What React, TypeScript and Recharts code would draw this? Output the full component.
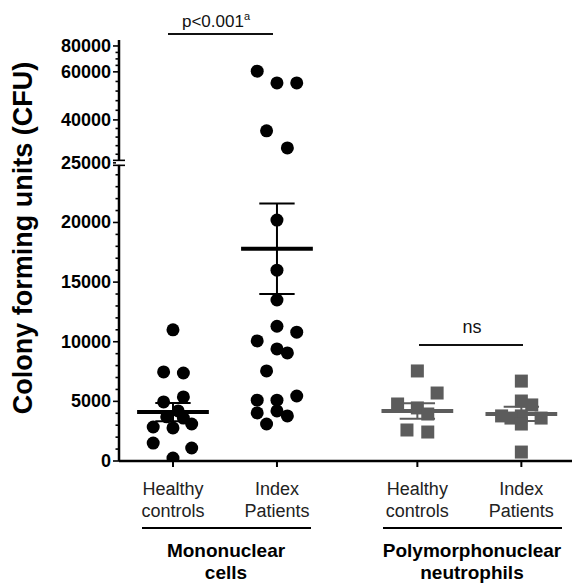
import { ScatterChart, Scatter, XAxis, YAxis, ReferenceLine } from 'recharts'

const FONT = '"Liberation Sans", Arial, sans-serif'
const GRAY = '#5c5c5c'

// group positions on the x axis
const groupX = [1, 2, 3.35, 4.35]
const groupLabels = [['Healthy', 'controls'], ['Index', 'Patients'], ['Healthy', 'controls'], ['Index', 'Patients']]

// CFU values, with jitter offsets
const monoHealthy = [11000, 7470, 7380, 5370, 4950, 4200, 3700, 3600, 2850, 2770, 3100, 1500, 1090, 250]
const monoHealthyJitter = [0, -0.09, 0.1, 0.1, -0.09, 0.05, -0.06, 0.1, -0.19, 0, 0.18, -0.19, 0.18, 0]
const monoIndex = [60500, 55400, 55400, 36200, 30200, 20200, 16000, 13500, 11300, 10800, 10070, 9400, 9060, 7550, 5450, 5100, 5100, 4030, 4200, 3780, 3100]
const monoIndexJitter = [-0.19, 0, 0.19, -0.1, 0.1, 0, 0, 0, 0, 0.19, -0.19, 0, 0.1, -0.1, 0.19, -0.19, 0, -0.19, 0, 0.1, -0.1]
const pmnHealthy = [7550, 5700, 4780, 4450, 3940, 2600, 2430]
const pmnHealthyJitter = [0, 0.19, -0.19, 0, 0.1, -0.1, 0.1]
const pmnIndex = [6700, 5030, 4700, 3780, 3780, 3600, 3600, 3100, 750]
const pmnIndexJitter = [0, 0, 0.1, -0.19, 0, 0.19, -0.1, 0, 0]

// mean and SEM per group
const means = [4100, 17800, 4200, 3950]
const sems = [760, 3800, 650, 590]

// y axis ticks (real values); axis is broken at 25000
const majorTicks = [0, 5000, 10000, 15000, 20000, 25000, 40000, 60000, 80000]
const minorTicks = [1000, 2000, 3000, 4000, 6000, 7000, 8000, 9000, 11000, 12000, 13000, 14000,
  16000, 17000, 18000, 19000, 21000, 22000, 23000, 24000, 28000, 31000, 34000, 37000,
  44000, 48000, 52000, 56000, 65000, 70000, 75000]

// broken-axis mapping: linear below 25000, compressed above
const breakIn = [0, 25000, 40000, 60000, 80000]
const breakOut = [0, 25000, 28600, 32630, 34800]
const toT = (v: number) => {
  for (let i = 1; i < breakIn.length; i++) {
    if (v <= breakIn[i]) {
      const f = (v - breakIn[i - 1]) / (breakIn[i] - breakIn[i - 1])
      return breakOut[i - 1] + f * (breakOut[i] - breakOut[i - 1])
    }
  }
  return breakOut[breakOut.length - 1]
}

const pts = (vals: number[], jit: number[], gx: number) =>
  vals.map((v, i) => ({ x: gx + jit[i], y: toT(v) }))

const Dot = (p: any) => <circle cx={p.cx} cy={p.cy} r={6.5} fill='#000' />
const Sq = (p: any) => <rect x={p.cx - 6.5} y={p.cy - 6.5} width={13} height={13} fill={GRAY} />

const YTick = (p: any) => {
  const { x, y, payload } = p
  const major = majorTicks.find(v => Math.abs(toT(v) - payload.value) < 1)
  const len = major !== undefined ? 6 : 3.5
  return (
    <g>
      <line x1={x - len} x2={x} y1={y} y2={y} stroke='#000' strokeWidth={1.6} />
      {major === 25000 && (
        <g>
          <rect x={x - 3} y={y - 2} width={6} height={4} fill='#fff' />
          <line x1={x - 6} x2={x + 6} y1={y - 2.5} y2={y - 2.5} stroke='#000' strokeWidth={1.6} />
          <line x1={x - 6} x2={x + 6} y1={y + 2.5} y2={y + 2.5} stroke='#000' strokeWidth={1.6} />
        </g>
      )}
      {major !== undefined && (
        <text x={x - 8} y={y + 6} textAnchor='end' fontFamily={FONT} fontWeight='bold' fontSize={18} fill='#000'>
          {major}
        </text>
      )}
    </g>
  )
}

const XTick = (p: any) => {
  const { x, y, payload } = p
  const i = groupX.indexOf(payload.value)
  const lbl = groupLabels[i] || ['', '']
  return (
    <g>
      <line x1={x} x2={x} y1={y} y2={y + 6} stroke='#000' strokeWidth={2} />
      <text x={x} y={y + 34} textAnchor='middle' fontFamily={FONT} fontSize={18} fill='#222'>{lbl[0]}</text>
      <text x={x} y={y + 56} textAnchor='middle' fontFamily={FONT} fontSize={18} fill='#222'>{lbl[1]}</text>
    </g>
  )
}

export default function App() {
  const series = [
    { data: pts(monoHealthy, monoHealthyJitter, groupX[0]), shape: Dot },
    { data: pts(monoIndex, monoIndexJitter, groupX[1]), shape: Dot },
    { data: pts(pmnHealthy, pmnHealthyJitter, groupX[2]), shape: Sq },
    { data: pts(pmnIndex, pmnIndexJitter, groupX[3]), shape: Sq },
  ]
  const colors = ['#000', '#000', GRAY, GRAY]

  return (
    <div style={{ position: 'absolute', left: 0, top: 0, width: 572, height: 583, background: '#fff' }}>
      <ScatterChart width={572} height={583} margin={{ top: 40, right: 0, bottom: 0, left: 0 }}>
        <XAxis type='number' dataKey='x' domain={[0.481, 4.837]} allowDataOverflow
          ticks={groupX} interval={0} tickSize={0} tickMargin={0} tick={XTick}
          axisLine={{ stroke: '#000', strokeWidth: 2.5 }} tickLine={false} height={122} />
        <YAxis type='number' dataKey='y' domain={[0, 35300]} allowDataOverflow
          ticks={[...majorTicks, ...minorTicks].map(toT)} interval={0} tickSize={0} tickMargin={0}
          tick={YTick} axisLine={{ stroke: '#000', strokeWidth: 2.5 }} tickLine={false} width={119} />
        {series.map((s, i) => (
          <Scatter key={i} data={s.data} shape={s.shape} isAnimationActive={false} />
        ))}
        {groupX.map((gx, i) => (
          <ReferenceLine key={'v' + i} stroke={colors[i]} strokeWidth={2}
            segment={[{ x: gx, y: toT(means[i] - sems[i]) }, { x: gx, y: toT(means[i] + sems[i]) }]} />
        ))}
        {groupX.map((gx, i) => (
          <ReferenceLine key={'m' + i} stroke={colors[i]} strokeWidth={4}
            segment={[{ x: gx - 0.345, y: toT(means[i]) }, { x: gx + 0.345, y: toT(means[i]) }]} />
        ))}
        {groupX.map((gx, i) => (
          <ReferenceLine key={'u' + i} stroke={colors[i]} strokeWidth={2}
            segment={[{ x: gx - 0.17, y: toT(means[i] + sems[i]) }, { x: gx + 0.17, y: toT(means[i] + sems[i]) }]} />
        ))}
        {groupX.map((gx, i) => (
          <ReferenceLine key={'l' + i} stroke={colors[i]} strokeWidth={2}
            segment={[{ x: gx - 0.17, y: toT(means[i] - sems[i]) }, { x: gx + 0.17, y: toT(means[i] - sems[i]) }]} />
        ))}
      </ScatterChart>

      {/* annotations and group labels */}
      <svg width={572} height={583} style={{ position: 'absolute', left: 0, top: 0, pointerEvents: 'none' }}
        fontFamily={FONT}>
        <text x={32} y={238} transform='rotate(-90 32 238)' textAnchor='middle' fontWeight='bold' fontSize={27} fill='#000'>
          Colony forming units (CFU)
        </text>
        <text x={216} y={27} textAnchor='middle' fontSize={17} fill='#111'>
          p&lt;0.001<tspan dy={-7} fontSize={11}>a</tspan>
        </text>
        <line x1={168} x2={273} y1={34} y2={34} stroke='#111' strokeWidth={2} />
        <text x={472} y={333} textAnchor='middle' fontSize={18} fill='#111'>ns</text>
        <line x1={419} x2={523} y1={345} y2={345} stroke='#111' strokeWidth={2} />
        <line x1={142} x2={311} y1={528} y2={528} stroke='#000' strokeWidth={2} />
        <line x1={383} x2={562} y1={528} y2={528} stroke='#000' strokeWidth={2} />
        <text x={226} y={557} textAnchor='middle' fontWeight='bold' fontSize={19} fill='#000'>Mononuclear</text>
        <text x={226} y={579} textAnchor='middle' fontWeight='bold' fontSize={19} fill='#000'>cells</text>
        <text x={472} y={557} textAnchor='middle' fontWeight='bold' fontSize={19} fill='#000'>Polymorphonuclear</text>
        <text x={472} y={579} textAnchor='middle' fontWeight='bold' fontSize={19} fill='#000'>neutrophils</text>
      </svg>
    </div>
  )
}
